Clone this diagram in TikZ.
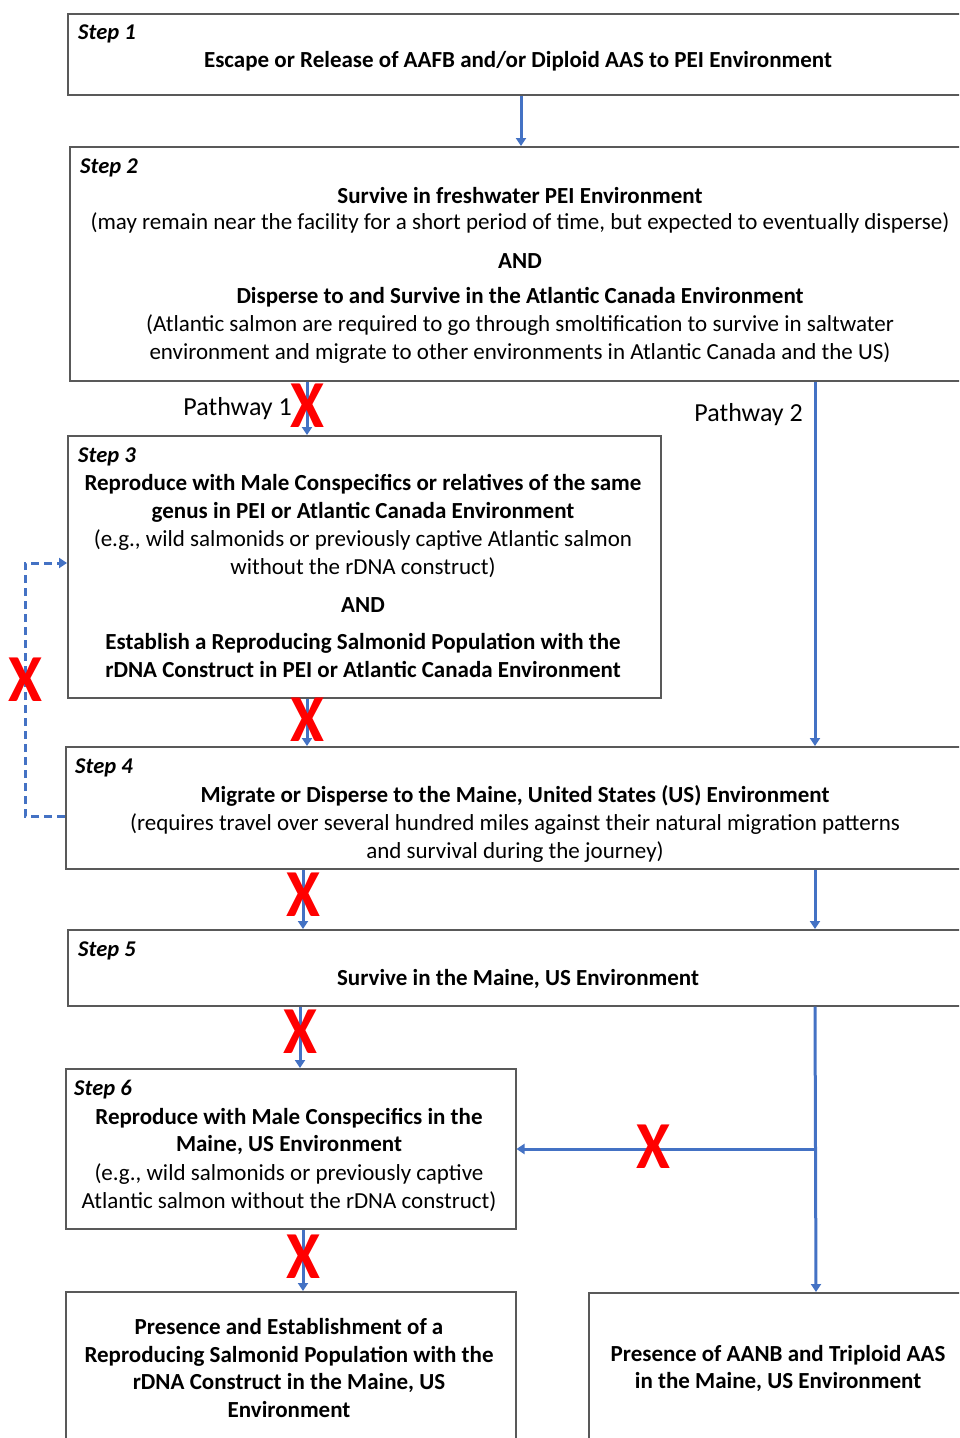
\documentclass[tikz,border=0pt]{standalone}
\usepackage{fontspec}
\setmainfont{Carlito}
\usetikzlibrary{arrows.meta,calc}

\definecolor{flowblue}{HTML}{4472C4}
\definecolor{boxline}{HTML}{595959}
\definecolor{stopred}{HTML}{FF0000}

\tikzset{
  box/.style={draw=boxline, line width=1.5pt, rectangle, anchor=north west, inner sep=0pt},
  steplabel/.style={anchor=west, inner sep=0pt, font=\fontsize{22.5}{26}\selectfont\bfseries\itshape},
  head/.style={inner sep=0pt, align=center, font=\fontsize{23}{27.7}\selectfont\bfseries},
  body/.style={inner sep=0pt, align=center, font=\fontsize{23}{27.7}\selectfont},
  pathlabel/.style={inner sep=0pt, font=\fontsize{26}{30}\selectfont},
  flow/.style={draw=flowblue, line width=3pt, -{Triangle[width=10pt,length=8pt]}},
  loop/.style={draw=flowblue, line width=3pt, dash pattern=on 8pt off 5pt, -{Triangle[width=10pt,length=8pt]}},
  xmark/.style={inner sep=0pt, text=stopred, font=\fontsize{56}{56}\selectfont\bfseries}
}
\newcommand{\stopmark}{\scalebox{1.1}[1.2]{X}}

\begin{document}
\begin{tikzpicture}[x=1pt, y=-1pt]
\useasboundingbox (0,0) rectangle (959,1438);
\clip (0,0) rectangle (959,1438);

% column guides for the vertical connectors
\coordinate (cA) at (521,0);
\coordinate (cP1) at (307,0);
\coordinate (cP2) at (815,0);
\coordinate (c45) at (303,0);
\coordinate (c56) at (300,0);
\coordinate (c67) at (303,0);
\coordinate (cL) at (25,0);

% ---- Step 1
\node[box, minimum width=930pt, minimum height=81pt] (b1) at (67,13) {};
\node[steplabel] (s1) at (78,33.5) {Step 1};
\node[head] (t1) at (518,61.5) {Escape or Release of AAFB and/or Diploid AAS to PEI Environment};

% ---- Step 2
\node[box, minimum width=930pt, minimum height=234pt] (b2) at (69,146) {};
\node[steplabel] (s2) at (80,167.5) {Step 2};
\node[head] (t2a) at (520,196) {Survive in freshwater PEI Environment};
\node[body] (t2b) at (520,223) {(may remain near the facility for a short period of time, but expected to eventually disperse)};
\node[head] (t2c) at (520,261) {AND};
\node[head] (t2d) at (520,297) {Disperse to and Survive in the Atlantic Canada Environment};
\node[body] (t2e) at (520,339) {(Atlantic salmon are required to go through smoltification to survive in saltwater\\environment and migrate to other environments in Atlantic Canada and the US)};

% ---- Step 3
\node[box, minimum width=593pt, minimum height=262pt] (b3) at (67,435) {};
\node[steplabel] (s3) at (78,456.5) {Step 3};
\node[head] (t3a) at (363,498.5) {Reproduce with Male Conspecifics or relatives of the same\\genus in PEI or Atlantic Canada Environment};
\node[body] (t3b) at (363,554) {(e.g., wild salmonids or previously captive Atlantic salmon\\without the rDNA construct)};
\node[head] (t3c) at (363,605) {AND};
\node[head] (t3d) at (363,655.5) {Establish a Reproducing Salmonid Population with the\\rDNA Construct in PEI or Atlantic Canada Environment};

% ---- Step 4
\node[box, minimum width=930pt, minimum height=122pt] (b4) at (65,746) {};
\node[steplabel] (s4) at (75,767.5) {Step 4};
\node[head] (t4a) at (515,796) {Migrate or Disperse to the Maine, United States (US) Environment};
\node[body] (t4b) at (515,838) {(requires travel over several hundred miles against their natural migration patterns\\and survival during the journey)};

% ---- Step 5
\node[box, minimum width=930pt, minimum height=76pt] (b5) at (67,929) {};
\node[steplabel] (s5) at (78,950.5) {Step 5};
\node[head] (t5) at (518,979) {Survive in the Maine, US Environment};

% ---- Step 6
\node[box, minimum width=450pt, minimum height=160pt] (b6) at (65,1068) {};
\node[steplabel] (s6) at (74,1089.5) {Step 6};
\node[head] (t6a) at (289,1131.5) {Reproduce with Male Conspecifics in the\\Maine, US Environment};
\node[body] (t6b) at (289,1187.5) {(e.g., wild salmonids or previously captive\\Atlantic salmon without the rDNA construct)};

% ---- Outcomes
\node[box, minimum width=450pt, minimum height=200pt] (b7) at (65,1291) {};
\node[head] (t7) at (289,1368) {Presence and Establishment of a\\Reproducing Salmonid Population with the\\rDNA Construct in the Maine, US\\Environment};
\node[box, minimum width=420pt, minimum height=200pt] (b8) at (588,1292) {};
\node[head] (t8) at (778,1368.5) {Presence of AANB and Triploid AAS\\in the Maine, US Environment};

% ---- pathway labels
\node[pathlabel, anchor=east] (p1) at (292,409) {Pathway 1};
\node[pathlabel, anchor=east] (p2) at (803,415) {Pathway 2};

% ---- connectors
\draw[flow] (b1.south -| cA) -- (b2.north -| cA);
\draw[flow] (b2.south -| cP1) -- (b3.north -| cP1);
\draw[flow] (b2.south -| cP2) -- (b4.north -| cP2);
\draw[flow] (b3.south -| cP1) -- (b4.north -| cP1);
\draw[flow] (b4.south -| c45) -- (b5.north -| c45);
\draw[flow] (b4.south -| cP2) -- (b5.north -| cP2);
\draw[flow] (b5.south -| c56) -- (b6.north -| c56);
\draw[flow] (b6.south -| c67) -- (b7.north -| c67);
\coordinate (br) at (816,1149);
\draw[flow] (b5.south -| cP2) -- (b8.north -| br);
\draw[flow] (br) -- (b6.east |- br);

% dashed return from Step 4 to Step 3
\coordinate (lb) at (65,816);
\coordinate (lt) at (67,563);
\draw[loop] (lb) -- (lb -| cL) -- (lt -| cL) -- (lt);

% ---- blocked transitions
\node[xmark] (x1) at (307,406) {\stopmark};
\node[xmark] (x2) at (307,720) {\stopmark};
\node[xmark] (x3) at (303,895) {\stopmark};
\node[xmark] (x4) at (300,1032) {\stopmark};
\node[xmark] (x5) at (303,1257) {\stopmark};
\node[xmark] (x6) at (653,1147) {\stopmark};
\node[xmark] (x7) at (25,680) {\stopmark};
\end{tikzpicture}
\end{document}
